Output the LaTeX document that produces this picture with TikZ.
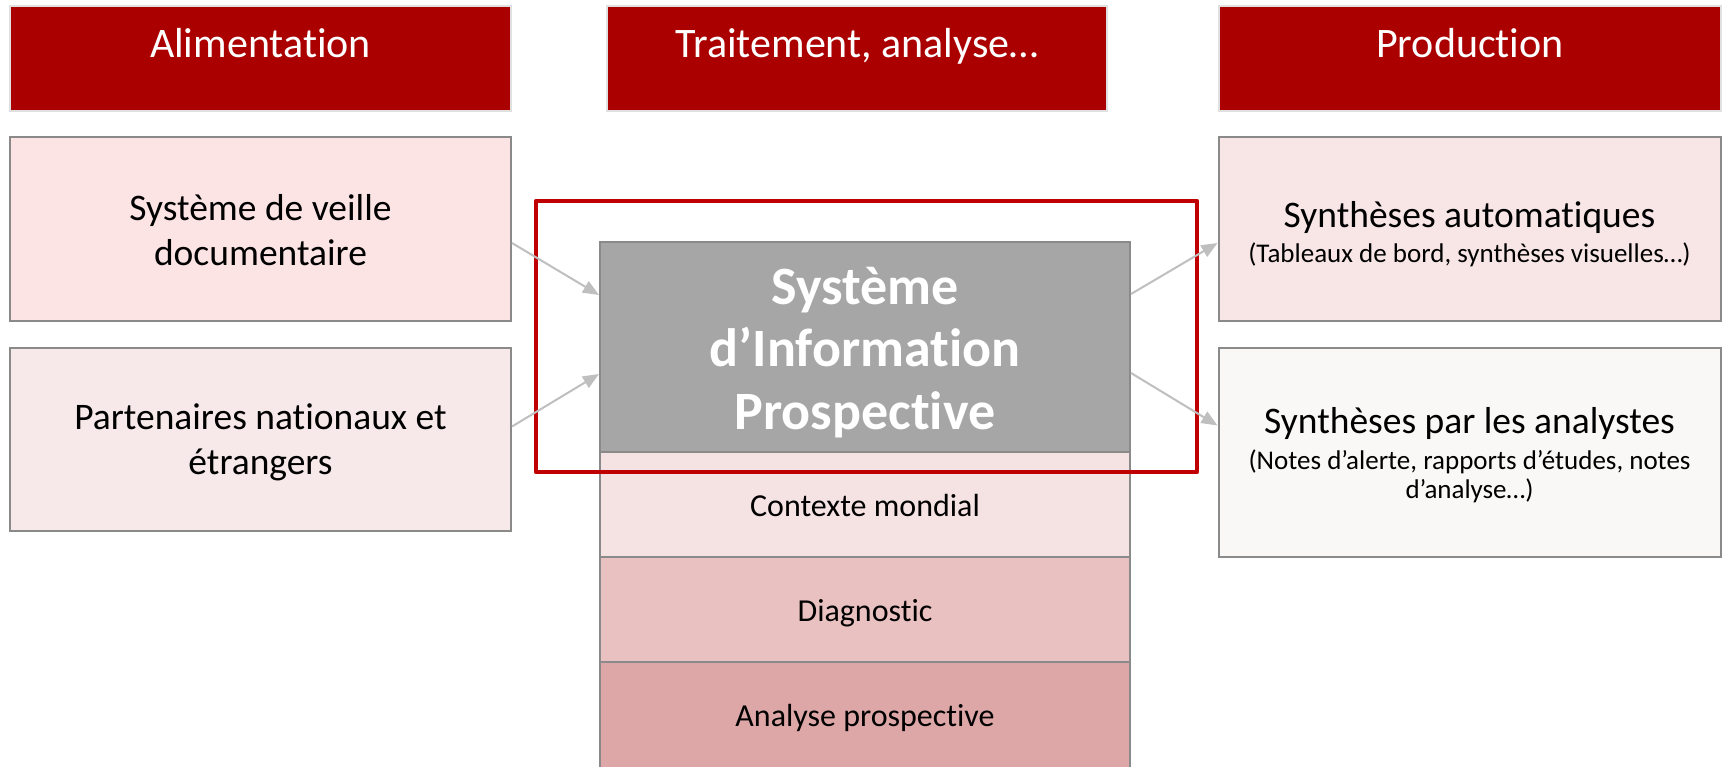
\documentclass[tikz,border=0pt]{standalone}
\usepackage{fontspec}
\setmainfont{Carlito}[Ligatures={TeX,NoCommon}]
\usetikzlibrary{arrows.meta,calc}
\definecolor{hdrred}{HTML}{AB0000}
\definecolor{hdrline}{HTML}{E0E0E0}
\definecolor{boxline}{HTML}{8A8A8A}
\definecolor{pinkA}{HTML}{FDE4E4}
\definecolor{pinkB}{HTML}{F7E9E9}
\definecolor{pinkC}{HTML}{F8E6E6}
\definecolor{offwhite}{HTML}{FAF8F7}
\definecolor{sipgray}{HTML}{A6A6A6}
\definecolor{ctxfill}{HTML}{F5E2E2}
\definecolor{diagfill}{HTML}{EAC1C1}
\definecolor{anafill}{HTML}{DEA7A7}
\definecolor{frame}{HTML}{C00000}
\definecolor{arrowgray}{HTML}{BFBFBF}
\begin{document}
\begin{tikzpicture}[x=1pt,y=-1pt,
  hdr/.style={fill=hdrred, draw=hdrline, line width=2pt, inner sep=0pt,
    minimum height=105pt},
  hdrtxt/.style={text=white, inner sep=0pt, anchor=base, font=\fontsize{42}{50}\selectfont},
  box/.style={draw=boxline, line width=2pt, inner sep=0pt},
  layer/.style={draw=boxline, line width=2pt, inner sep=0pt, minimum width=530pt},
  maintxt/.style={inner sep=0pt, anchor=base, font=\fontsize{37.5}{45}\selectfont},
  laytxt/.style={inner sep=0pt, anchor=base, font=\fontsize{32}{38}\selectfont},
  siptxt/.style={inner sep=0pt, anchor=base, text=white, font=\fontsize{54}{62}\selectfont\bfseries},
  subtxt/.style={inner sep=0pt, anchor=base, font=\fontsize{27}{32}\selectfont},
  conn/.style={draw=arrowgray, line width=2pt, -{Triangle[length=16pt,width=13pt]}}
]
\useasboundingbox (0,0) rectangle (1723,766);

% headers
\node[hdr, minimum width=501pt] (h1) at (260.5,58.5) {};
\node[hdr, minimum width=500pt] (h2) at (857,58.5) {};
\node[hdr, minimum width=502pt] (h3) at (1470,58.5) {};
\node[hdrtxt] (h1t) at ($(h1.north)+(0,52)$) {Alimentation};
\node[hdrtxt] (h2t) at ($(h2.north)+(0,52)$) {Traitement, analyse…};
\node[hdrtxt] (h3t) at ($(h3.north)+(0,52)$) {Production};

% left boxes
\node[box, fill=pinkA, minimum width=501pt, minimum height=184pt] (l1) at (260.5,229) {};
\node[maintxt] (l1a) at ($(l1.north)+(0,84)$) {Système de veille};
\node[maintxt] (l1b) at ($(l1.north)+(0,129)$) {documentaire};
\node[box, fill=pinkB, minimum width=501pt, minimum height=183pt] (l2) at (260.5,439.5) {};
\node[maintxt] (l2a) at ($(l2.north)+(0,82)$) {Partenaires nationaux et};
\node[maintxt] (l2b) at ($(l2.north)+(0,127)$) {étrangers};

% center stack
\node[layer, fill=sipgray, minimum height=210pt] (sip) at (865,347) {};
\node[siptxt] (sipa) at ($(sip.north)+(0,63)$) {Système};
\node[siptxt] (sipb) at ($(sip.north)+(0,125)$) {d’Information};
\node[siptxt] (sipc) at ($(sip.north)+(0,188)$) {Prospective};
\node[layer, fill=ctxfill, minimum height=105pt] (ctx) at (865,504.5) {};
\node[laytxt] (ctxt) at ($(ctx.north)+(0,65)$) {Contexte mondial};
\node[layer, fill=diagfill, minimum height=105pt] (diag) at (865,609.5) {};
\node[laytxt] (diagt) at ($(diag.north)+(0,65)$) {Diagnostic};
\node[layer, fill=anafill, minimum height=108pt] (ana) at (865,716) {};
\node[laytxt] (anat) at ($(ana.north)+(0,65)$) {Analyse prospective};

% right boxes
\node[box, fill=pinkC, minimum width=502pt, minimum height=184pt] (r1) at (1469.5,229) {};
\node[maintxt] (r1a) at ($(r1.north)+(0,91)$) {Synthèses automatiques};
\node[subtxt] (r1b) at ($(r1.north)+(0,126)$) {(Tableaux de bord, synthèses visuelles…)};
\node[box, fill=offwhite, minimum width=502pt, minimum height=209pt] (r2) at (1469.5,452.5) {};
\node[maintxt] (r2a) at ($(r2.north)+(0,86)$) {Synthèses par les analystes};
\node[subtxt] (r2b) at ($(r2.north)+(0,122)$) {(Notes d’alerte, rapports d’études, notes};
\node[subtxt] (r2c) at ($(r2.north)+(0,151)$) {d’analyse…)};

% red frame
\draw[frame, line width=4.5pt, line join=round] (536,201) rectangle (1197,472);

% connectors
\draw[conn] ($(l1.east)+(0,14)$) -- ($(sip.west)+(0,-52)$);
\draw[conn] ($(l2.east)+(0,-13)$) -- ($(sip.west)+(0,27)$);
\draw[conn] ($(sip.east)+(0,-53)$) -- ($(r1.west)+(0,14)$);
\draw[conn] ($(sip.east)+(0,26)$) -- ($(r2.west)+(0,-27)$);
\end{tikzpicture}
\end{document}
